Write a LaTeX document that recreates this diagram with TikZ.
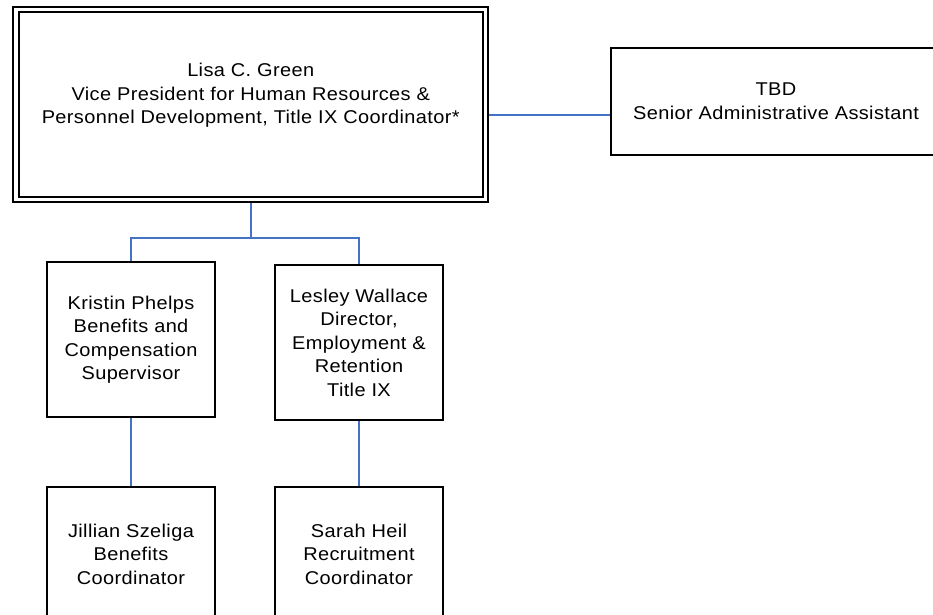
\documentclass[tikz,border=0pt]{standalone}
\usepackage{fontspec}
\setmainfont{Liberation Sans}[FakeStretch=1.08, LetterSpace=2]
\definecolor{connblue}{RGB}{68,114,196}
\begin{document}
\begin{tikzpicture}[x=1pt,y=-1pt,
  txt/.style={inner sep=0pt, align=center, font=\fontsize{18.5}{23.5}\selectfont},
  box/.style={txt, draw=black, line width=2pt, fill=white},
  topbox/.style={box, line width=1.8pt, double=white, double distance=3.6pt, outer sep=3.6pt},
  conn/.style={draw=connblue, line width=1.6pt}]
\useasboundingbox (0,0) rectangle (933,614);
\clip (0,0) rectangle (933,614);
\node[topbox, minimum width=469.5pt, minimum height=190pt] (top) at (250.75,104.5) {};
\node[txt] (toptext) at ([yshift=9pt]top.center)
  {Lisa C. Green\\Vice President for Human Resources \&\\Personnel Development, Title IX Coordinator*};
\node[box, minimum width=330pt, minimum height=107pt] (tbd) at (776,101)
  {TBD\\Senior Administrative Assistant};
\node[box, minimum width=168pt, minimum height=155pt] (kristin) at (131,339.5)
  {Kristin Phelps\\Benefits and\\Compensation\\Supervisor};
\node[box, minimum width=168pt, minimum height=155pt] (lesley) at (359,342.5)
  {Lesley Wallace\\Director,\\Employment \&\\Retention\\Title IX};
\node[box, minimum width=168pt, minimum height=134pt] (jillian) at (131,554)
  {Jillian Szeliga\\Benefits\\Coordinator};
\node[box, minimum width=168pt, minimum height=134pt] (sarah) at (359,554)
  {Sarah Heil\\Recruitment\\Coordinator};
\coordinate (split) at ([yshift=-35pt]top.south);
\draw[conn] (top.east |- 0,115) -- (tbd.west |- 0,115);
\draw[conn] (top.south) -- (split) -| (kristin.north);
\draw[conn] (split) -| (lesley.north);
\draw[conn] (kristin.south) -- (jillian.north);
\draw[conn] (lesley.south) -- (sarah.north);
\end{tikzpicture}
\end{document}
